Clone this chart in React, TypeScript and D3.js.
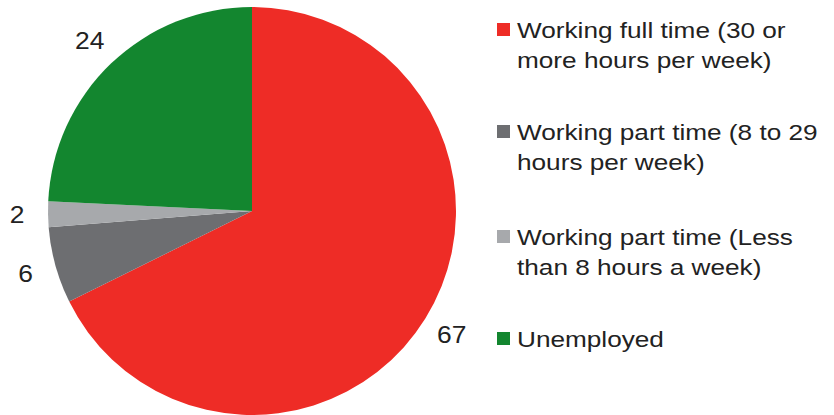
import React from "react";
import * as d3 from "d3";

// Chart data
const categories: string[] = [
    "Working full time (30 or more hours per week)",
    "Working part time (8 to 29 hours per week)",
    "Working part time (Less than 8 hours a week)",
    "Unemployed",
];
const values: number[] = [67, 6, 2, 24];
const legendLines: string[][] = [
    ["Working full time (30 or", "more hours per week)"],
    ["Working part time (8 to 29", "hours per week)"],
    ["Working part time (Less", "than 8 hours a week)"],
    ["Unemployed"],
];
const colors: string[] = ["#EE2C26", "#6D6E71", "#A7A9AC", "#13862F"];

const App: React.FC = () => {
    const width = 834;
    const height = 415;
    const cx = 252;
    const cy = 211;
    const radius = 204;
    const labelRadius = 235;
    // the source font is drawn wider than Liberation Sans
    const stretch = 1.19;

    const colorScale = d3.scaleOrdinal<string, string>().domain(categories).range(colors);

    const pie = d3.pie<number>().sort(null).value(d => d);
    const arcs = pie(values);
    const arcGen = d3.arc<d3.PieArcDatum<number>>().innerRadius(0).outerRadius(radius);
    const labelArc = d3.arc<d3.PieArcDatum<number>>().innerRadius(labelRadius).outerRadius(labelRadius);

    const legendX = 497;
    const legendY = [38, 140, 245, 347];
    const lineHeight = 30;

    return (
        <svg
            width={width}
            height={height}
            style={{ position: "absolute", left: 0, top: 0, display: "block" }}
            fontFamily="'Liberation Sans', Arial, sans-serif"
        >
            <rect width={width} height={height} fill="#fff" />
            {/* Slices */}
            <g transform={`translate(${cx},${cy})`}>
                {arcs.map((a, i) => (
                    <path key={i} d={arcGen(a) as string} fill={colorScale(categories[i])} />
                ))}
                {/* Value labels */}
                {arcs.map((a, i) => {
                    const [lx, ly] = labelArc.centroid(a);
                    return (
                        <g key={`l-${i}`} transform={`translate(${lx},${ly}) scale(1.15,1)`}>
                            <text dy="0.35em" textAnchor="middle" fontSize={23} fill="#222">
                                {values[i]}
                            </text>
                        </g>
                    );
                })}
            </g>
            {/* Legend */}
            {legendLines.map((lines, i) => (
                <g key={`leg-${i}`}>
                    <rect x={legendX} y={legendY[i] - 15} width={13} height={13} fill={colors[i]} />
                    <g transform={`translate(${legendX + 20},0) scale(${stretch},1)`}>
                        <text fontSize={22} fill="#222">
                            {lines.map((ln, j) => (
                                <tspan key={j} x={0} y={legendY[i] + j * lineHeight}>{ln}</tspan>
                            ))}
                        </text>
                    </g>
                </g>
            ))}
        </svg>
    );
};

export default App;
